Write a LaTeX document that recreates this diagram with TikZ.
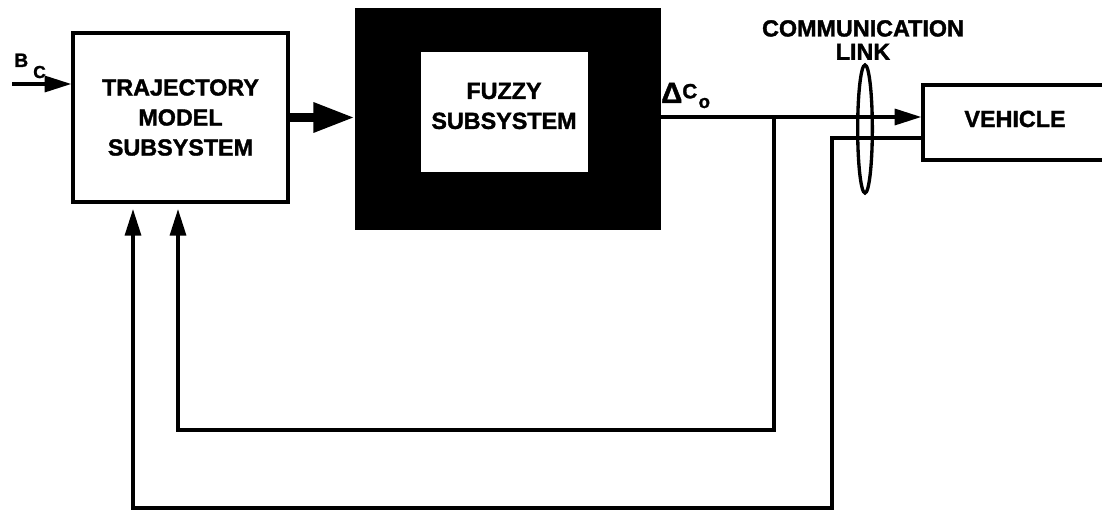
\documentclass[tikz,border=0pt]{standalone}
\usepackage{fontspec}
\setmainfont{Liberation Sans}[BoldFeatures={FakeBold=1.5}]
\usetikzlibrary{arrows.meta,shapes.geometric}
\tikzset{
  blk/.style={draw=black,line width=2.5pt,fill=white,inner sep=0pt,font=\bfseries\fontsize{17.5}{22.5}\selectfont,align=center},
  lbl/.style={inner sep=0pt,font=\bfseries\fontsize{17.5}{22.5}\selectfont,align=center},
  conn/.style={line width=2.5pt,-{Triangle[length=20pt,width=12pt]}},
  fat/.style={line width=6.75pt,-{Triangle[length=31pt,width=21pt]}},
}
\begin{document}
\begin{tikzpicture}[x=0.75pt,y=-0.75pt]
\clip (0,0) rectangle (1102,513);
\fill[white] (0,0) rectangle (1102,513);
% blocks
\node[blk,minimum width=161.25pt,minimum height=126.75pt] (traj) at (180.5,117.5) {TRAJECTORY\\MODEL\\SUBSYSTEM};
\node[draw=black,fill=black,inner sep=0pt,minimum width=228.75pt,minimum height=165.75pt] (fuzzy) at (507.5,118.5) {};
\node[fill=white,inner sep=0pt,minimum width=125.25pt,minimum height=90pt] (fin) at (504.5,112) {};
\node[lbl] (ftext) at (504,106) {FUZZY\\SUBSYSTEM};
\node[blk,minimum width=138pt,minimum height=56.25pt] (veh) at (1015,122.5) {};
\node[lbl] (vtext) at (1015,119) {VEHICLE};
% labels
\node[lbl,font=\bfseries\fontsize{17.5}{17.5}\selectfont] (comm) at (863,40) {COMMUNICATION\\LINK};
\node[inner sep=0pt,anchor=base west] (bB) at (14,67) {\bfseries\fontsize{14.5}{14.5}\selectfont B};
\node[inner sep=0pt,anchor=base west] (bC) at (33,78) {\bfseries\fontsize{13}{13}\selectfont C};
\node[inner sep=0pt,anchor=base west] (dC) at (661,103) {\bfseries\fontsize{22}{22}\selectfont Δ\raisebox{3.5pt}{\fontsize{15.5}{15.5}\selectfont C}\hspace{1pt}\raisebox{-3.75pt}{\fontsize{14}{14}\selectfont o}};
% coordinates
\coordinate (bcin) at (12,84);
\coordinate (branch) at (774,117);
\coordinate (fb1) at (178,430);
\coordinate (v2) at (832,138);
\coordinate (fb2) at (133,508);
% connectors
\draw[conn] (bcin) -- (bcin -| traj.west);
\draw[fat] (traj.east) -- (traj.east -| fuzzy.west);
\draw[conn] (branch -| fuzzy.east) -- (branch -| veh.west);
\draw[conn,shorten >=4pt] (branch) |- (fb1) -- (fb1 |- traj.south);
\draw[conn,shorten >=4pt] (v2 -| veh.west) -- (v2) |- (fb2) -- (fb2 |- traj.south);
% communication link ellipse
\node[ellipse,draw=black,line width=2.5pt,minimum width=11pt,minimum height=96pt,inner sep=0pt] (link) at (865,129) {};
\end{tikzpicture}
\end{document}
